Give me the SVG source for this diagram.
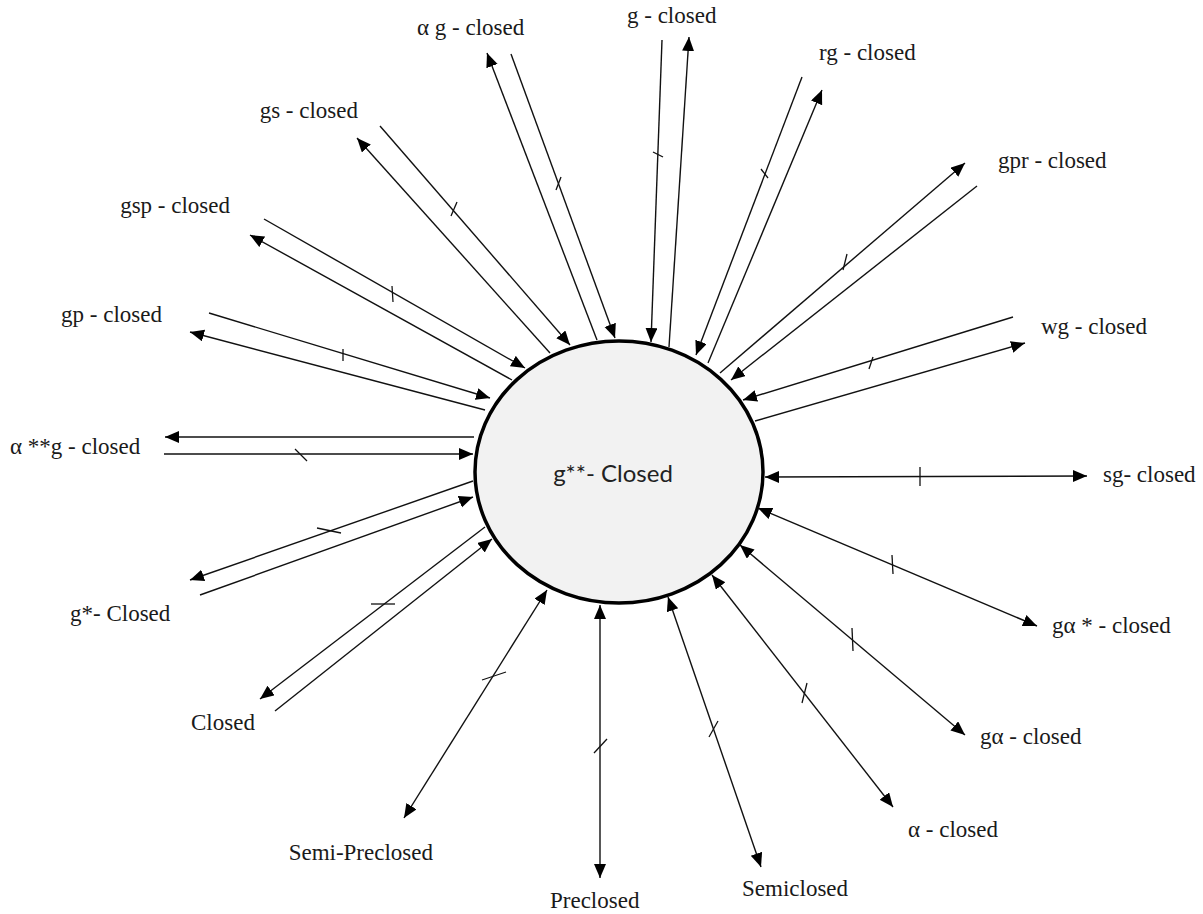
<svg xmlns="http://www.w3.org/2000/svg" width="1203" height="914" viewBox="0 0 1203 914">
<style>
.lbl{font-family:"Liberation Serif","Times New Roman",serif;font-size:23px;fill:#1a1a1a}
.c line{stroke:#111;stroke-width:1.4;fill:none}
.c .a{marker-end:url(#ah)}
.c .d{marker-start:url(#ah);marker-end:url(#ah)}
.t line{stroke:#111;stroke-width:1.3}
</style>
<defs>
<marker id="ah" markerUnits="userSpaceOnUse" markerWidth="15" markerHeight="13" refX="14" refY="6" orient="auto-start-reverse">
<path d="M0,0 L14,6 L0,12 z" fill="#000"/>
</marker>
</defs>
<rect width="1203" height="914" fill="#fff"/>
<g id="center">
<ellipse cx="619" cy="472" rx="144" ry="131" fill="#f2f2f2" stroke="#000" stroke-width="3.5"/>
<text x="613" y="482" text-anchor="middle" style="font-family:Lato,'Open Sans',sans-serif;font-size:24px;fill:#222">g**- Closed</text>
</g>
<g id="connectors" class="c">
<!-- alpha g -->
<line class="a" x1="597" y1="340" x2="487" y2="53"/>
<line class="a" x1="511" y1="54" x2="615" y2="338"/>
<!-- g -->
<line class="a" x1="662" y1="40" x2="651" y2="342"/>
<line class="a" x1="669" y1="347" x2="689" y2="37"/>
<!-- rg -->
<line class="a" x1="802" y1="77" x2="696" y2="355"/>
<line class="a" x1="708" y1="363" x2="822" y2="90"/>
<!-- gpr -->
<line class="a" x1="720" y1="373" x2="965" y2="163"/>
<line class="a" x1="977" y1="186" x2="731" y2="380"/>
<!-- wg -->
<line class="a" x1="1013" y1="317" x2="743" y2="400"/>
<line class="a" x1="755" y1="421" x2="1025" y2="343"/>
<!-- sg -->
<line class="d" x1="765" y1="477" x2="1087" y2="476"/>
<!-- g alpha * -->
<line class="d" x1="758" y1="508" x2="1037" y2="626"/>
<!-- g alpha -->
<line class="d" x1="740" y1="545" x2="965" y2="735"/>
<!-- alpha -->
<line class="d" x1="712" y1="575" x2="893" y2="807"/>
<!-- semiclosed -->
<line class="d" x1="668" y1="597" x2="761" y2="867"/>
<!-- preclosed -->
<line class="d" x1="600" y1="605" x2="600" y2="878"/>
<!-- semi-preclosed -->
<line class="d" x1="547" y1="590" x2="404" y2="818"/>
<!-- closed -->
<line class="a" x1="485" y1="527" x2="260" y2="699"/>
<line class="a" x1="275" y1="711" x2="492" y2="539"/>
<!-- g* -->
<line class="a" x1="473" y1="481" x2="190" y2="580"/>
<line class="a" x1="200" y1="595" x2="473" y2="497"/>
<!-- alpha**g -->
<line class="a" x1="474" y1="437" x2="165" y2="437"/>
<line class="a" x1="164" y1="454" x2="473" y2="454"/>
<!-- gp -->
<line class="a" x1="209" y1="313" x2="490" y2="398"/>
<line class="a" x1="485" y1="410" x2="190" y2="332"/>
<!-- gsp -->
<line class="a" x1="264" y1="219" x2="525" y2="368"/>
<line class="a" x1="512" y1="380" x2="250" y2="235"/>
<!-- gs -->
<line class="a" x1="380" y1="126" x2="570" y2="345"/>
<line class="a" x1="550" y1="353" x2="357" y2="138"/>
</g>
<g id="ticks" class="t">
<line x1="556" y1="190" x2="561" y2="177"/>
<line x1="653" y1="152" x2="663" y2="157"/>
<line x1="761" y1="169" x2="768" y2="178"/>
<line x1="843" y1="270" x2="847" y2="254"/>
<line x1="869" y1="369" x2="873" y2="357"/>
<line x1="920" y1="467" x2="920" y2="486"/>
<line x1="892" y1="555" x2="893" y2="574"/>
<line x1="852" y1="628" x2="853" y2="651"/>
<line x1="802" y1="703" x2="807" y2="683"/>
<line x1="709" y1="737" x2="718" y2="721"/>
<line x1="594" y1="753" x2="607" y2="739"/>
<line x1="482" y1="680" x2="506" y2="672"/>
<line x1="371" y1="604" x2="395" y2="604"/>
<line x1="317" y1="528" x2="341" y2="533"/>
<line x1="295" y1="449" x2="307" y2="461"/>
<line x1="343" y1="349" x2="343" y2="361"/>
<line x1="392" y1="286" x2="393" y2="302"/>
<line x1="451" y1="216" x2="457" y2="202"/>
</g>
<g id="n-ag"><text class="lbl" x="417" y="35">α g - closed</text></g>
<g id="n-g"><text class="lbl" x="627" y="23">g - closed</text></g>
<g id="n-rg"><text class="lbl" x="819" y="60">rg - closed</text></g>
<g id="n-gpr"><text class="lbl" x="998" y="168">gpr - closed</text></g>
<g id="n-wg"><text class="lbl" x="1041" y="334">wg - closed</text></g>
<g id="n-sg"><text class="lbl" x="1103" y="482">sg- closed</text></g>
<g id="n-gas"><text class="lbl" x="1052" y="633">gα * - closed</text></g>
<g id="n-ga"><text class="lbl" x="980" y="744">gα - closed</text></g>
<g id="n-a"><text class="lbl" x="908" y="837">α - closed</text></g>
<g id="n-semic"><text class="lbl" x="742" y="896">Semiclosed</text></g>
<g id="n-prec"><text class="lbl" x="550" y="908">Preclosed</text></g>
<g id="n-semip"><text class="lbl" x="433" y="860" text-anchor="end">Semi-Preclosed</text></g>
<g id="n-closed"><text class="lbl" x="191" y="730">Closed</text></g>
<g id="n-gstar"><text class="lbl" x="70" y="621">g*- Closed</text></g>
<g id="n-assg"><text class="lbl" x="10" y="454">α **g - closed</text></g>
<g id="n-gp"><text class="lbl" x="162" y="322" text-anchor="end">gp - closed</text></g>
<g id="n-gsp"><text class="lbl" x="230" y="213" text-anchor="end">gsp - closed</text></g>
<g id="n-gs"><text class="lbl" x="358" y="118" text-anchor="end">gs - closed</text></g>
</svg>
